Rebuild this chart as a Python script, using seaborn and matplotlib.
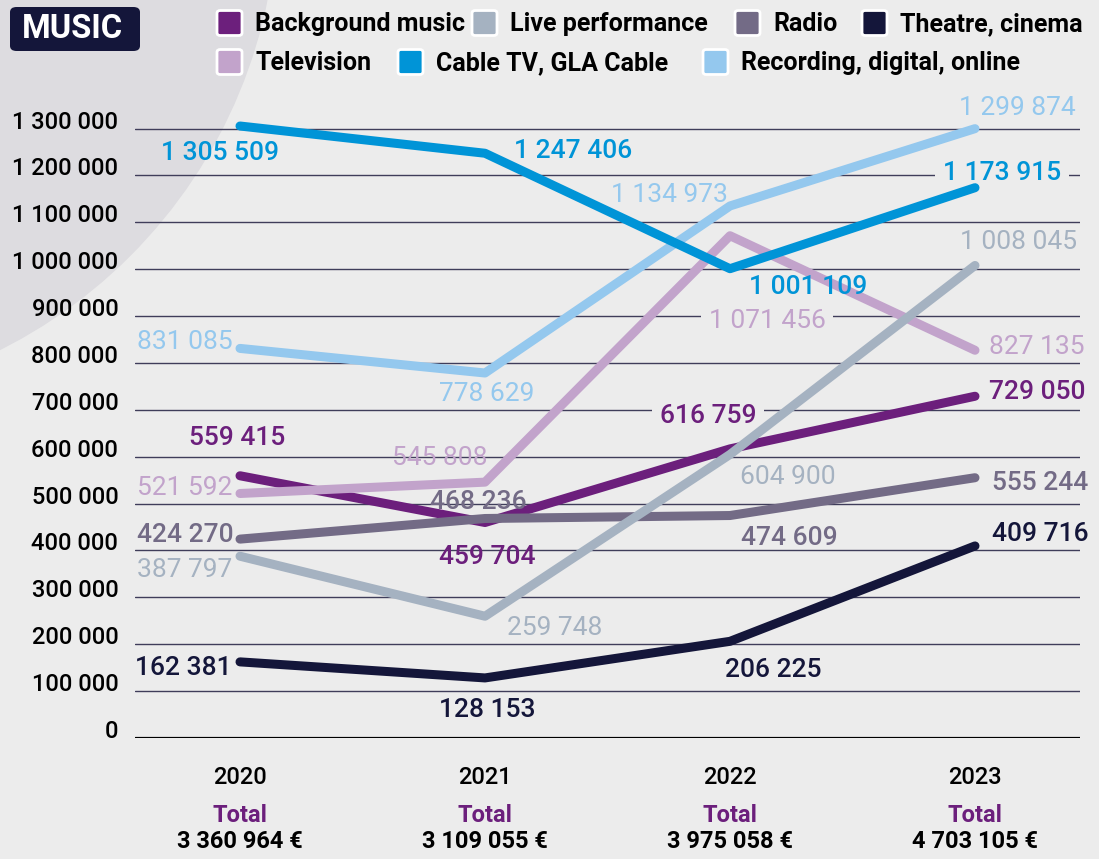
import matplotlib.pyplot as plt
import pandas as pd
import seaborn as sns
from matplotlib.patches import Ellipse, FancyBboxPatch

# data
years = [2020, 2021, 2022, 2023]
background_music = [559415, 459704, 616759, 729050]
live_performance = [387797, 259748, 604900, 1008045]
radio = [424270, 468236, 474609, 555244]
theatre_cinema = [162381, 128153, 206225, 409716]
television = [521592, 545808, 1071456, 827135]
cable_tv = [1305509, 1247406, 1001109, 1173915]
recording = [831085, 778629, 1134973, 1299874]
totals = [3360964, 3109055, 3975058, 4703105]

series = {
    'Background music': background_music,
    'Live performance': live_performance,
    'Radio': radio,
    'Theatre, cinema': theatre_cinema,
    'Television': television,
    'Cable TV, GLA Cable': cable_tv,
    'Recording, digital, online': recording,
}

colors = {
    'Background music': '#6c1f7c',
    'Live performance': '#a5b2c1',
    'Radio': '#736b86',
    'Theatre, cinema': '#14163a',
    'Television': '#c2a3cb',
    'Cable TV, GLA Cable': '#0094d7',
    'Recording, digital, online': '#94c8ee',
}
weights = {
    'Background music': 'medium', 'Live performance': 'normal', 'Radio': 'medium',
    'Theatre, cinema': 'medium', 'Television': 'normal',
    'Cable TV, GLA Cable': 'medium', 'Recording, digital, online': 'normal',
}
# label offsets from the point, in pixels (dx right, dy down)
offsets = {
    'Background music': [(-3, -38), (2, 34), (-22, -33), (62, -4)],
    'Live performance': [(-55, 14), (70, 12), (58, 23), (43, -23)],
    'Radio': [(-55, -4), (-7, -17), (59, 22), (65, 5)],
    'Theatre, cinema': [(-57, 6), (2, 32), (43, 29), (65, -12)],
    'Television': [(-55, -5), (-45, -24), (37, 85), (62, -3)],
    'Cable TV, GLA Cable': [(-20, 27), (88, -2), (78, 18), (27, -15)],
    'Recording, digital, online': [(-55, -6), (2, 21), (-61, -11), (42, -21)],
}
boxed = {('Background music', 2), ('Television', 2), ('Cable TV, GLA Cable', 3)}

draw_order = ['Background music', 'Television', 'Radio', 'Live performance',
              'Theatre, cinema', 'Recording, digital, online', 'Cable TV, GLA Cable']

df = pd.DataFrame([(s, y, v) for s, vals in series.items() for y, v in zip(years, vals)],
                  columns=['series', 'year', 'value'])

sns.set_theme(style='white')
plt.rcParams['font.family'] = ['Roboto', 'DejaVu Sans']
BG = '#ececec'

W, H = 1099, 859
fig = plt.figure(figsize=(W / 100, H / 100), dpi=100, facecolor=BG)

def fx(x):
    return x / W

def fy(y):
    return 1 - y / H

# big circle in the corner
fig.patches.append(Ellipse((fx(-226), fy(-100)), 2 * 503 / W, 2 * 503 / H,
                           transform=fig.transFigure, color='#dddce0', zorder=-5))

ax = fig.add_axes([fx(135), fy(738), fx(1080) - fx(135), fy(100) - fy(738)])
ax.set_facecolor('none')

sns.lineplot(data=df, x='year', y='value', hue='series', hue_order=draw_order,
             palette=colors, linewidth=6.5, solid_capstyle='round', legend=False,
             sort=False, ax=ax, zorder=3)

ax.set_xlim(2020 - 105 / 245, 2023 + 105 / 245)
ax.set_ylim(0, 1361000)
for s in ax.spines.values():
    s.set_visible(False)

yt = list(range(0, 1300001, 100000))
ax.set_yticks(yt, [f'{v:,}'.replace(',', ' ') for v in yt])
ax.tick_params(axis='y', length=0, pad=12, labelsize=17, labelcolor='black')
for lab in ax.get_yticklabels():
    lab.set_fontweight('medium')
    lab.set_verticalalignment('baseline')
ax.grid(axis='y', color='#3f3d5a', linewidth=1)
ax.set_axisbelow(True)
ax.axhline(0, color='black', linewidth=2.3, zorder=2)

ax.set_xticks(years, [str(y) for y in years])
ax.tick_params(axis='x', length=0, pad=20, labelsize=17, labelcolor='black')
for lab in ax.get_xticklabels():
    lab.set_fontweight('medium')
ax.set_xlabel('')
ax.set_ylabel('')

for y, t in zip(years, totals):
    ax.annotate('Total', (y, 0), xycoords=('data', 'axes fraction'),
                xytext=(0, -77 * 0.72), textcoords='offset points', ha='center', va='center',
                fontsize=17, fontweight='bold', color='#6c1f7c')
    ax.annotate(f'{t:,} €'.replace(',', ' '), (y, 0), xycoords=('data', 'axes fraction'),
                xytext=(0, -104 * 0.72), textcoords='offset points', ha='center', va='center',
                fontsize=17, fontweight='bold', color='black')

# value labels
for name, vals in series.items():
    for i, (y, v) in enumerate(zip(years, vals)):
        dx, dy = offsets[name][i]
        kw = {'zorder': 4}
        if (name, i) in boxed:
            kw = {'zorder': 2.5, 'bbox': dict(boxstyle='square,pad=0.3', fc=BG, ec='none')}
        ax.annotate(f'{v:,}'.replace(',', ' '), (y, v), xytext=(dx * 0.72, -dy * 0.72),
                    textcoords='offset points', ha='center', va='center', fontsize=19,
                    fontweight=weights[name], color=colors[name], **kw)

# title badge
fig.patches.append(FancyBboxPatch((fx(10), fy(51)), fx(130), 44 / H,
                                  boxstyle='round,pad=0,rounding_size=0.006',
                                  transform=fig.transFigure, fc='#14163a', ec='none'))
fig.text(fx(72), fy(29), 'MUSIC', color='white', fontsize=23.5, fontweight='bold',
         ha='center', va='center')

# legend
legend_pos = {
    'Background music': (217, 23), 'Live performance': (472, 23), 'Radio': (735, 23),
    'Theatre, cinema': (862, 23), 'Television': (217, 62),
    'Cable TV, GLA Cable': (398, 62), 'Recording, digital, online': (703, 62),
}
sq = 25
for name, (lx, ly) in legend_pos.items():
    fig.patches.append(FancyBboxPatch((fx(lx), fy(ly + sq / 2)), sq / W, sq / H,
                                      boxstyle='round,pad=0,rounding_size=0.003',
                                      transform=fig.transFigure, fc=colors[name],
                                      ec='white', lw=2))
    fig.text(fx(lx + 38), fy(ly + 1), name, fontsize=18, fontweight='bold', color='black',
             ha='left', va='center')

fig.savefig('out.png', dpi=100, facecolor=BG)
